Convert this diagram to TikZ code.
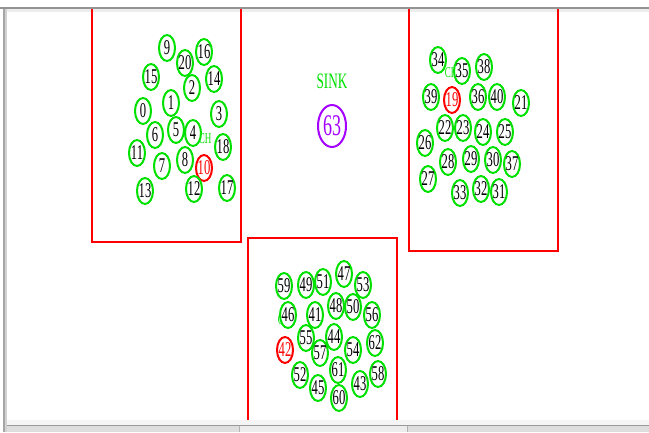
\documentclass[tikz,border=0pt]{standalone}
\usepackage{fontspec}
\setmainfont{Liberation Serif}
\newfontfamily\narrowserif[FakeStretch=0.6]{Liberation Serif}
\usetikzlibrary{shapes.geometric}

\definecolor{ringgreen}{RGB}{0,225,0}
\definecolor{sinkpurple}{RGB}{165,0,255}

\begin{document}
\begin{tikzpicture}[
	x=1pt, y=-1pt,
	sensor/.style={
		ellipse, draw=ringgreen, line width=2pt, fill=white,
		inner xsep=-3pt, inner ysep=0pt,
		minimum width=16pt, minimum height=26pt,
		font=\narrowserif\fontsize{21}{21}\selectfont
	},
	head/.style={sensor, draw=red, text=red},
	sinknode/.style={
		ellipse, draw=sinkpurple, text=sinkpurple, line width=2pt,
		inner xsep=-4pt, inner ysep=0pt,
		minimum width=28pt, minimum height=42pt,
		font=\narrowserif\fontsize{30}{30}\selectfont
	},
	chlbl/.style={text=ringgreen, inner sep=0pt, font=\narrowserif\fontsize{15}{15}\selectfont},
	field/.style={draw=red, line width=1.5pt}
]
\useasboundingbox (0,0) rectangle (649,432);

% window frame
\fill[white] (0,0) rectangle (649,432);
\fill[black!7] (6,9) rectangle (649,11.5);
\fill[black!4] (6,420) rectangle (649,424.5);
\fill[black!13] (6,425) rectangle (649,432);
\fill[black!7] (239,426) rectangle (407,432);
\draw[gray!60] (239,426) -- (239,432) (407,426) -- (407,432);
\draw[gray!80, line width=1pt] (6,425) -- (649,425);
\fill[gray!70] (3,8) rectangle (4.5,432);
\fill[gray!35] (4.5,8) rectangle (6.5,432);
\draw[gray!85, line width=1.5pt] (0,8) -- (649,8);

% fields
\draw[field] (92,9) -- (92,242) -- (241,242) -- (241,9);
\draw[field] (409,9) -- (409,251) -- (558,251) -- (558,9);
\draw[field] (248,420) -- (248,238) -- (397,238) -- (397,420);

% sink
\node[text=ringgreen, font=\narrowserif\fontsize{22}{22}\selectfont] (sink) at (332,81) {SINK};
\node[sinknode] (n63) at (332,126) {63};

% cluster one
\node[chlbl] (ch1) at (205,139) {CH};
\node[sensor] (n9)  at (167,48)  {9};
\node[sensor] (n16) at (204,52)  {16};
\node[sensor] (n20) at (185,63)  {20};
\node[sensor] (n15) at (151,77)  {15};
\node[sensor] (n14) at (214,79)  {14};
\node[sensor] (n2)  at (192,88)  {2};
\node[sensor] (n1)  at (171,103) {1};
\node[sensor] (n0)  at (143,111) {0};
\node[sensor] (n3)  at (219,114) {3};
\node[sensor] (n6)  at (155,135) {6};
\node[sensor] (n5)  at (176,130) {5};
\node[sensor] (n4)  at (193,133) {4};
\node[sensor] (n18) at (223,147) {18};
\node[sensor] (n11) at (137,153) {11};
\node[sensor] (n7)  at (162,166) {7};
\node[sensor] (n8)  at (185,160) {8};
\node[head]   (n10) at (204,168) {10};
\node[sensor] (n13) at (145,191) {13};
\node[sensor] (n12) at (194,189) {12};
\node[sensor] (n17) at (227,188) {17};

% cluster two
\node[chlbl] (ch2) at (451,73) {CH};
\node[sensor] (n34) at (438,60)  {34};
\node[sensor] (n35) at (462,71)  {35};
\node[sensor] (n38) at (484,67)  {38};
\node[sensor] (n39) at (431,97)  {39};
\node[head]   (n19) at (452,100) {19};
\node[sensor] (n36) at (478,97)  {36};
\node[sensor] (n40) at (497,97)  {40};
\node[sensor] (n21) at (521,103) {21};
\node[sensor] (n22) at (445,128) {22};
\node[sensor] (n23) at (463,128) {23};
\node[sensor] (n24) at (483,132) {24};
\node[sensor] (n25) at (505,132) {25};
\node[sensor] (n26) at (425,143) {26};
\node[sensor] (n28) at (448,162) {28};
\node[sensor] (n29) at (471,159) {29};
\node[sensor] (n30) at (493,160) {30};
\node[sensor] (n37) at (512,164) {37};
\node[sensor] (n27) at (428,179) {27};
\node[sensor] (n33) at (460,193) {33};
\node[sensor] (n32) at (481,189) {32};
\node[sensor] (n31) at (499,192) {31};

% cluster three
\node[chlbl] (ch3) at (284,320) {CH};
\node[sensor] (n59) at (284,286) {59};
\node[sensor] (n49) at (306,285) {49};
\node[sensor] (n51) at (323,282) {51};
\node[sensor] (n47) at (344,274) {47};
\node[sensor] (n53) at (363,285) {53};
\node[sensor] (n46) at (288,315) {46};
\node[sensor] (n41) at (315,315) {41};
\node[sensor] (n48) at (336,306) {48};
\node[sensor] (n50) at (353,307) {50};
\node[sensor] (n56) at (372,315) {56};
\node[sensor] (n55) at (306,338) {55};
\node[sensor] (n44) at (334,337) {44};
\node[head]   (n42) at (285,350) {42};
\node[sensor] (n57) at (320,353) {57};
\node[sensor] (n54) at (353,350) {54};
\node[sensor] (n62) at (375,343) {62};
\node[sensor] (n52) at (300,375) {52};
\node[sensor] (n61) at (338,370) {61};
\node[sensor] (n45) at (318,388) {45};
\node[sensor] (n43) at (360,384) {43};
\node[sensor] (n58) at (378,374) {58};
\node[sensor] (n60) at (339,398) {60};

\end{tikzpicture}
\end{document}
